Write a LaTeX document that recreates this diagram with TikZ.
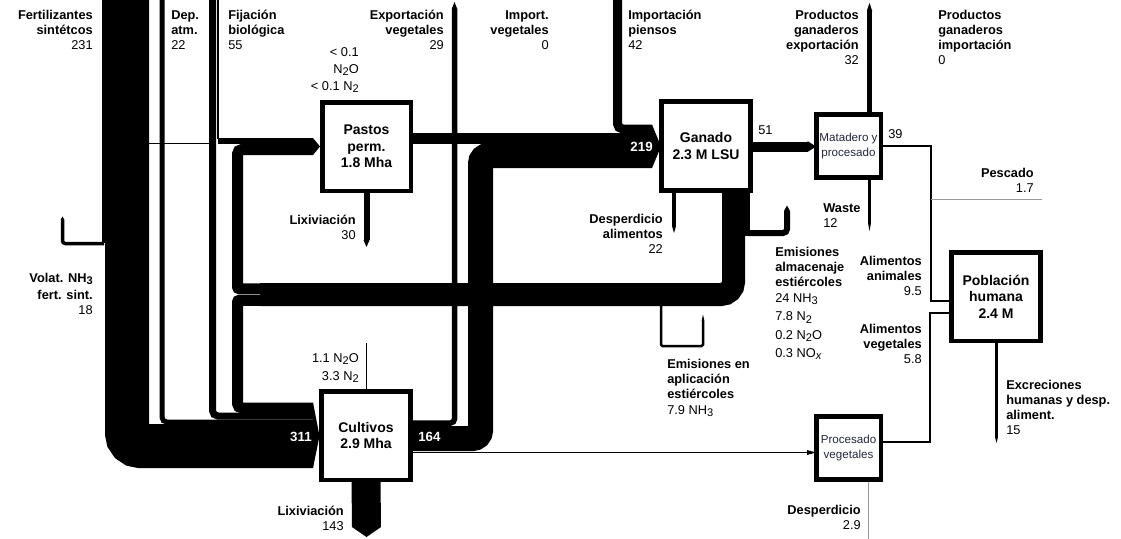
\documentclass[tikz,border=0pt]{standalone}
\usepackage{fontspec}
\setmainfont{Liberation Sans}
\newcommand\lf{\fontsize{9.6}{11.25}\selectfont}
\newcommand\boxfont{\fontsize{10.5}{12.4}\selectfont\bfseries}
\newcommand\smallboxfont{\fontsize{8.7}{11.25}\selectfont}
\newcommand\tp{\rule{0pt}{9pt}}
\newcommand\chsub[1]{\raisebox{-1.7pt}{\fontsize{8.3}{8.3}\selectfont #1}}
\definecolor{boxtext}{RGB}{35,40,60}
\tikzset{
  band/.style={draw=black, line width=#1*0.75pt, line cap=butt, line join=miter},
  thinflow/.style={draw=black, line width=#1*0.75pt, line cap=butt},
  graylink/.style={draw=gray!80, line width=0.75pt},
  bigbox/.style={draw=black, fill=white, line width=3.4pt, line join=miter, inner sep=0pt,
    align=center, font=\boxfont},
  smallbox/.style={draw=black, fill=white, line width=3.4pt, line join=miter, inner sep=0pt,
    align=center, font=\smallboxfont, text=boxtext},
  lblr/.style={inner sep=0pt, anchor=north east, align=right, font=\lf},
  lbll/.style={inner sep=0pt, anchor=north west, align=left, font=\lf},
  whitenum/.style={inner sep=0pt, text=white, font=\fontsize{10}{12}\selectfont\bfseries}
}
\begin{document}
\begin{tikzpicture}[x=0.75pt,y=-0.75pt]
\useasboundingbox (0,0) rectangle (1121,539);

% ---------- named source / sink coordinates ----------
\coordinate (fertTop) at (127,0);
\coordinate (depTop) at (162,0);
\coordinate (fijTop) at (212.5,0);
\coordinate (fijThinTop) at (218,0);
\coordinate (expVegTop) at (454.5,9);
\coordinate (piensosTop) at (617.5,0);
\coordinate (expGanTop) at (869.5,11);
\coordinate (volatEnd) at (62.5,222);
\coordinate (pescadoEnd) at (1042,199);
\coordinate (despProcEnd) at (868,539);

% ---------- boxes (placed first for anchors, drawn again later on top) ----------
\path (366.5,146.5) node[minimum width=66.4pt, minimum height=66.4pt, inner sep=0pt] (pastos) {};
\path (366,435.5) node[minimum width=67.1pt, minimum height=66.4pt, inner sep=0pt] (cultivos) {};
\path (706,146) node[minimum width=67.1pt, minimum height=67.1pt, inner sep=0pt] (ganado) {};
\path (848.5,146) node[minimum width=48.4pt, minimum height=47.6pt, inner sep=0pt] (matadero) {};
\path (848.5,448) node[minimum width=48.4pt, minimum height=47.6pt, inner sep=0pt] (procveg) {};
\path (996,296.5) node[minimum width=67.1pt, minimum height=66.4pt, inner sep=0pt] (poblacion) {};

% ---------- inputs to Cultivos ----------
\fill (102,0) rectangle (106,243);
\draw[band=44, rounded corners=9.75pt] (fertTop) -- (127,446) -- (313,446);
\draw[band=3.5, rounded corners=2pt] (104,243.5) -- (62.5,243.5) -- (volatEnd);
\fill (60.75,222) -- (60.75,219.5) -- (62.5,216.5) -- (64.25,219.5) -- (64.25,222) -- cycle;
\draw[band=5, rounded corners=3.5pt] (depTop) -- (162,422) -- (313,422);
\draw[band=7, rounded corners=4pt] (fijTop) -- (212.5,416) -- (313,416);

% ---------- inputs to Pastos ----------
\draw[thinflow=1.3] (fijThinTop) -- (218,138.5);
\draw[band=5.5] (217.5,140.75) -- (313,140.75);
\draw[thinflow=1] (149,143) -- (210,143);

% ---------- manure from Ganado ----------
\fill (722,193) rectangle (750,236);
\draw[band=6, rounded corners=3pt] (748,233) -- (787,233) -- (787,213);
\fill (784,213) -- (784,211) -- (787,205.5) -- (790,211) -- (790,213) -- cycle;
\draw[band=23, rounded corners=9.4pt] (733.5,230) -- (733.5,294.5) -- (260,294.5);
\draw[band=11] (262,288.75) [rounded corners=1.5pt] -- (237.5,288.75) [rounded corners=3.4pt] -- (237.5,149.5) -- (313,149.5);
\draw[band=11] (262,300.25) [rounded corners=1.5pt] -- (237.5,300.25) [rounded corners=3.4pt] -- (237.5,408) -- (313,408);
\draw[band=2.5, rounded corners=1pt] (661,305) -- (661,346) -- (703,346) -- (703,321);
\fill (701.6,321) -- (703,314.5) -- (704.4,321) -- cycle;

% ---------- arrow tips into Pastos / Cultivos ----------
\fill (313,138) -- (320,146.5) -- (313,155) -- cycle;
\fill (313,402.5) -- (319.5,436) -- (313,468) -- cycle;

% ---------- Cultivos outputs ----------
\draw[band=25, rounded corners=6pt] (cultivos.east |- 0,438.5) -- (480.5,438.5) -- (480.5,155.5) -- (652,155.5);
\draw[band=5.5, rounded corners=3pt] (cultivos.east |- 0,423) -- (454.5,423) -- (expVegTop);
\fill (451.75,9) -- (454.5,2) -- (457.25,9) -- cycle;
\draw[thinflow=1.8] (cultivos.east |- 0,452.5) -- (808,452.5);
\fill (807,450) -- (procveg.west |- 0,452.5) -- (807,455) -- cycle;
\draw[thinflow=1] (cultivos.north) ++(0,-48) -- (cultivos.north);
\draw[band=29] (cultivos.south) -- (366.5,527);
\fill (352,527) -- (366.5,537) -- (381,527) -- cycle;

% ---------- Pastos outputs ----------
\draw[band=11] (pastos.east |- 0,138) -- (652,138);
\draw[band=6] (pastos.south) -- (366.5,240);
\fill (363.5,240) -- (366.5,247) -- (369.5,240) -- cycle;

% ---------- Ganado inputs / outputs ----------
\draw[band=9, rounded corners=4pt] (piensosTop) -- (617.5,129) -- (652,129);
\fill (652,124.5) -- (ganado.west |- 0,146.5) -- (652,168) -- cycle;
\draw[band=4] (674,193) -- (674,226);
\fill (672,226) -- (674,233) -- (676,226) -- cycle;
\draw[band=10] (ganado.east |- 0,146.5) -- (808,146.5);
\fill (807.5,141) -- (matadero.west |- 0,146.5) -- (807.5,152) -- cycle;

% ---------- Matadero outputs ----------
\draw[band=5.5] (matadero.north -| 869.5,0) -- (expGanTop);
\fill (866.75,11) -- (869.5,3) -- (872.25,11) -- cycle;
\draw[band=2.5] (matadero.south -| 869.5,0) -- (869.5,224);
\fill (868.2,224) -- (869.5,231) -- (870.8,224) -- cycle;
\draw[thinflow=1.5] (matadero.east |- 0,146) -- (931,146) -- (931,301) -- (poblacion.west |- 0,301);
\draw[graylink] (pescadoEnd) -- (931,199);

% ---------- Procesado vegetales outputs ----------
\draw[thinflow=1.5] (procveg.east |- 0,442) -- (930,442) -- (930,313) -- (poblacion.west |- 0,313);
\draw[graylink] (procveg.south -| 868,0) -- (despProcEnd);

% ---------- Poblacion output ----------
\draw[band=3] (poblacion.south -| 996.5,0) -- (996.5,437);
\fill (995,437) -- (996.5,443) -- (998,437) -- cycle;

% ---------- boxes ----------
\node[bigbox, minimum width=66.4pt, minimum height=66.4pt] at (pastos) {Pastos\\perm.\\1.8 Mha};
\node[bigbox, minimum width=67.1pt, minimum height=66.4pt] at (cultivos) {Cultivos\\2.9 Mha};
\node[bigbox, minimum width=67.1pt, minimum height=67.1pt] at (ganado) {Ganado\\2.3 M LSU};
\node[smallbox, minimum width=48.4pt, minimum height=47.6pt] at (matadero) {Matadero y\\procesado};
\node[smallbox, minimum width=48.4pt, minimum height=47.6pt] at (procveg) {Procesado\\vegetales};
\node[bigbox, minimum width=67.1pt, minimum height=66.4pt] at (poblacion) {Población\\humana\\2.4 M};

% ---------- white numbers in bands ----------
\node[whitenum, anchor=east] (n311) at (312,437) {311};
\node[whitenum, anchor=west] (n164) at (418,437) {164};
\node[whitenum, anchor=east] (n219) at (653,147) {219};

% ---------- labels ----------
\node[lblr] (tFert) at (93,7) {\tp\textbf{Fertilizantes}\\\textbf{sintétcos}\\231};
\node[lbll] (tDep) at (171,7) {\tp\textbf{Dep.}\\\textbf{atm.}\\22};
\node[lbll] (tFij) at (228,7) {\tp\textbf{Fijación}\\\textbf{biológica}\\55};
\node[lblr] (tExpVeg) at (444,7) {\tp\textbf{Exportación}\\\textbf{vegetales}\\29};
\node[lblr] (tImpVeg) at (549,7) {\tp\textbf{Import.}\\\textbf{vegetales}\\0};
\node[lbll] (tPiensos) at (628,7) {\tp\textbf{Importación}\\\textbf{piensos}\\42};
\node[lblr] (tExpGan) at (859,7) {\tp\textbf{Productos}\\\textbf{ganaderos}\\\textbf{exportación}\\32};
\node[lbll] (tImpGan) at (938,7) {\tp\textbf{Productos}\\\textbf{ganaderos}\\\textbf{importación}\\0};
\node[lblr] (tPastEm) at (359,44) {\tp< 0.1\\[1.5pt]N\chsub{2}O\\[1.5pt]< 0.1 N\chsub{2}};
\node[lblr] (tLixP) at (356,212) {\tp\textbf{Lixiviación}\\30};
\node[lblr] (tDespAl) at (663,211) {\tp\textbf{Desperdicio}\\\textbf{alimentos}\\22};
\node[lbll] (tWaste) at (823,200) {\tp\textbf{Waste}\\12};
\node[lbll] (t51) at (758,122) {\tp 51};
\node[lbll] (t39) at (888,126) {\tp 39};
\node[lblr] (tPesc) at (1034,165) {\tp\textbf{Pescado}\\1.7};
\node[lblr] (tAlimAn) at (922,253) {\tp\textbf{Alimentos}\\\textbf{animales}\\9.5};
\node[lblr] (tAlimVeg) at (922,321) {\tp\textbf{Alimentos}\\\textbf{vegetales}\\5.8};
\node[lbll] (tEmAlm) at (775,244) {\tp\textbf{Emisiones}\\\textbf{almacenaje}\\\textbf{estiércoles}\\[1pt]24 NH\chsub{3}\\[2.5pt]7.8 N\chsub{2}\\[2.5pt]0.2 N\chsub{2}O\\[2.5pt]0.3 NO\chsub{\itshape x}};
\node[lbll] (tEmApl) at (667,356) {\tp\textbf{Emisiones en}\\\textbf{aplicación}\\\textbf{estiércoles}\\[1pt]7.9 NH\chsub{3}};
\node[lblr] (tCultEm) at (359,350) {\tp 1.1 N\chsub{2}O\\[2.5pt]3.3 N\chsub{2}};
\node[lblr] (tVolat) at (93,270) {\tp\textbf{Volat. NH\chsub{3}}\\[2pt]\textbf{fert. sint.}\\18};
\node[lbll] (tExcr) at (1006,377) {\tp\textbf{Excreciones}\\\textbf{humanas y desp.}\\\textbf{aliment.}\\15};
\node[lblr] (tDespProc) at (861,502) {\tp\textbf{Desperdicio}\\2.9};
\node[lblr] (tLixC) at (344,503) {\tp\textbf{Lixiviación}\\143};
\end{tikzpicture}
\end{document}
